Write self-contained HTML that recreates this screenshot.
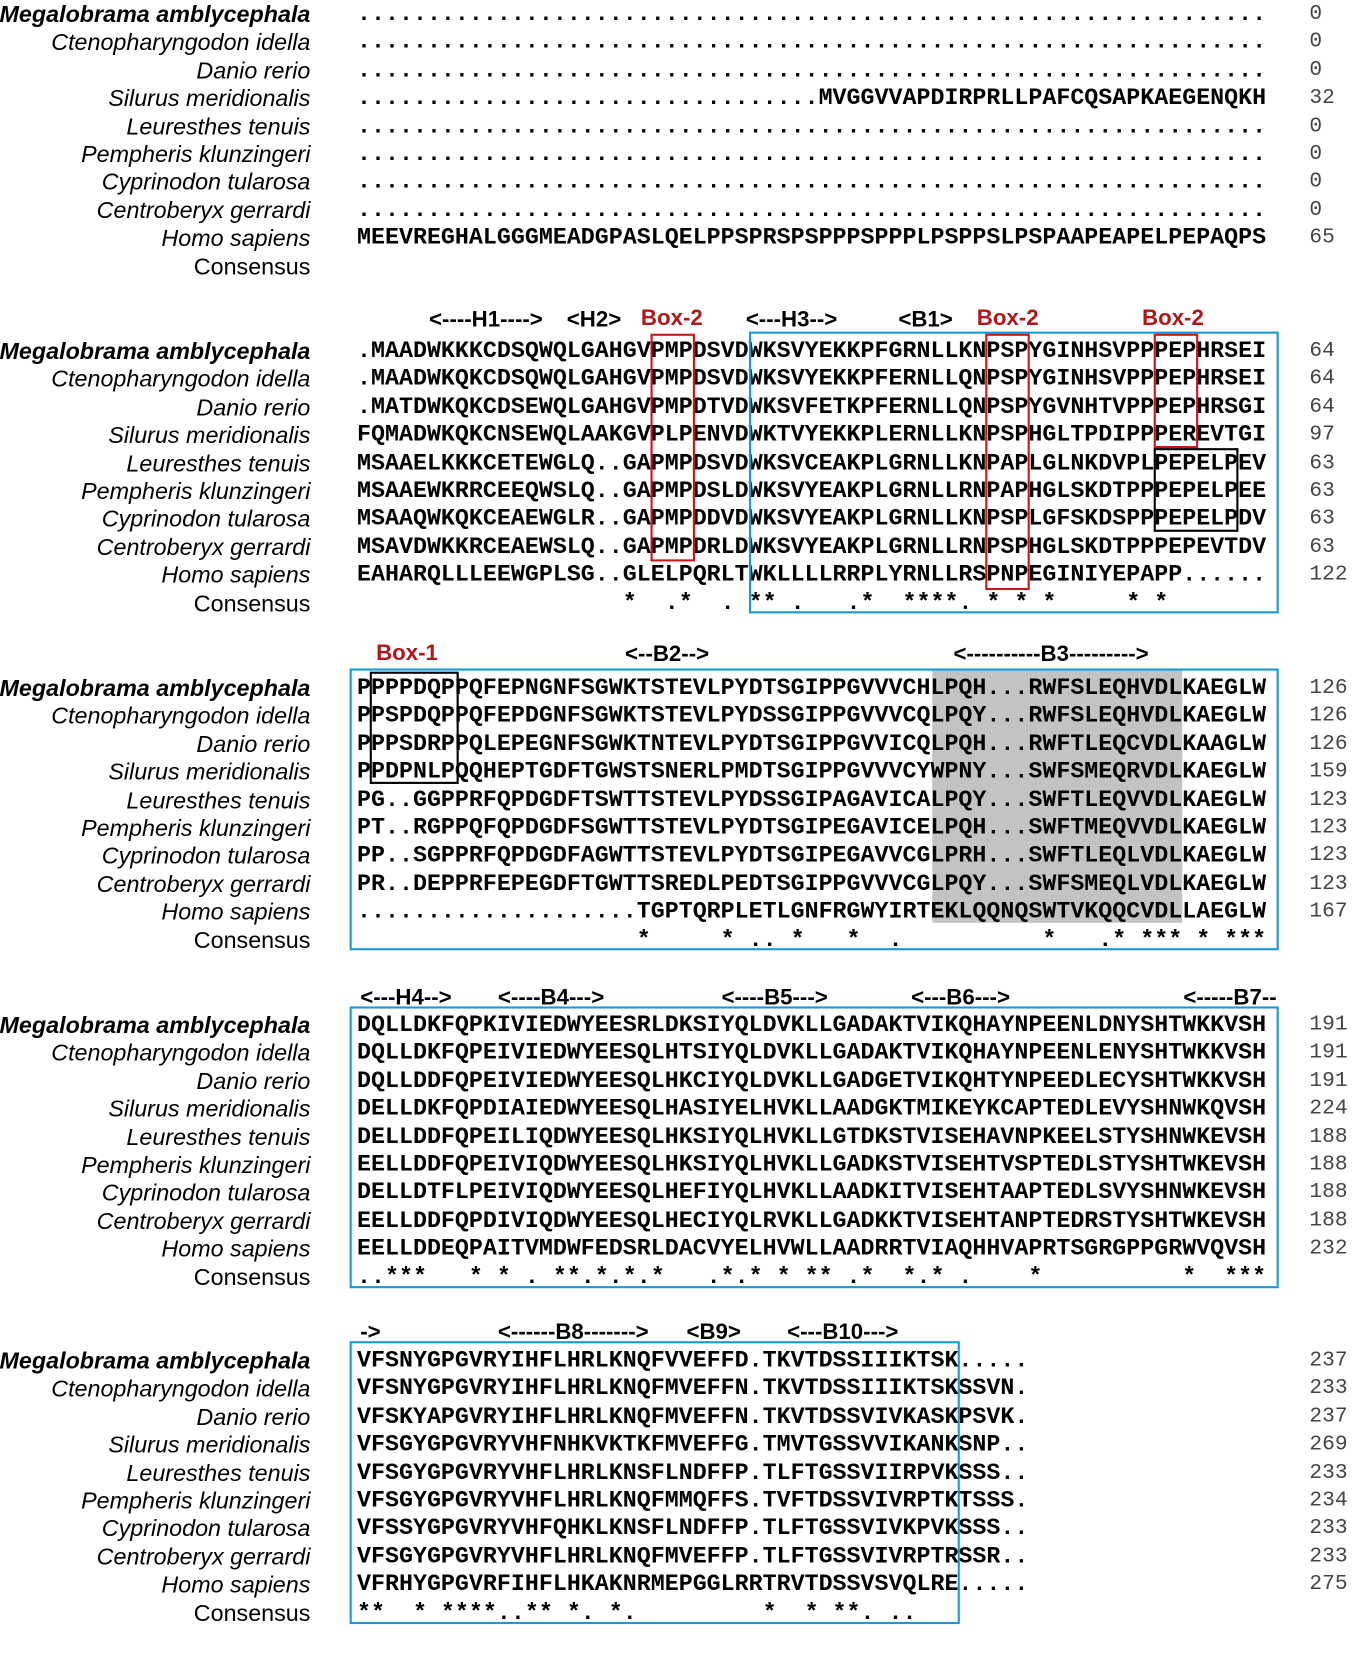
<!DOCTYPE html>
<html><head><meta charset="utf-8">
<style>
html,body{margin:0;padding:0;background:#fff;}
#wrap{width:1356px;height:1667px;overflow:hidden;position:relative;}
#pg{position:absolute;left:0;top:0;width:1280px;height:1574px;transform:scale(1.0594);transform-origin:0 0;}
.lab{position:absolute;right:987px;text-align:right;font-family:"Liberation Sans",sans-serif;font-style:italic;font-size:22px;line-height:26.4px;color:#000;white-space:pre;}
.lab b{font-weight:bold;}
.lab span{font-style:normal;}
.seq{position:absolute;left:337px;font-family:"Liberation Mono",monospace;font-weight:bold;font-size:22px;line-height:26.4px;white-space:pre;color:#000;margin:0;}
.num{position:absolute;left:1236px;font-family:"Liberation Mono",monospace;font-size:20px;line-height:26.4px;white-space:pre;color:#444;}
.hd{position:absolute;font-family:"Liberation Sans",sans-serif;font-weight:bold;font-size:21px;line-height:22px;white-space:pre;color:#000;}
.red{color:#b01818;}
.box{position:absolute;box-sizing:border-box;}
.blue{border:2.5px solid #1a98d5;}
.rb{border:2px solid #c8161d;}
.kb{border:2px solid #000;}
.gray{background:#c3c3c3;}
</style></head><body><div id="wrap"><div id="pg">

<div class="box gray" style="left:880px;top:632px;width:236px;height:239px;"></div>

<!-- Block 1 -->
<div class="lab" style="top:1px"><b>Megalobrama amblycephala</b>
Ctenopharyngodon idella
Danio rerio
Silurus meridionalis
Leuresthes tenuis
Pempheris klunzingeri
Cyprinodon tularosa
Centroberyx gerrardi
Homo sapiens
<span>Consensus</span></div>
<pre class="seq" style="top:1px">.................................................................
.................................................................
.................................................................
.................................MVGGVVAPDIRPRLLPAFCQSAPKAEGENQKH
.................................................................
.................................................................
.................................................................
.................................................................
MEEVREGHALGGGMEADGPASLQELPPSPRSPSPPPSPPPLPSPPSLPSPAAPEAPELPEPAQPS
</pre>
<div class="num" style="top:1px">0
0
0
32
0
0
0
0
65</div>

<!-- Block 2 -->
<div class="hd" style="left:405px;top:291px">&lt;----H1----&gt;</div>
<div class="hd" style="left:535px;top:291px">&lt;H2&gt;</div>
<div class="hd red" style="left:605px;top:290px">Box-2</div>
<div class="hd" style="left:704px;top:291px">&lt;---H3--&gt;</div>
<div class="hd" style="left:848px;top:291px">&lt;B1&gt;</div>
<div class="hd red" style="left:922px;top:290px">Box-2</div>
<div class="hd red" style="left:1078px;top:290px">Box-2</div>
<div class="lab" style="top:319px"><b>Megalobrama amblycephala</b>
Ctenopharyngodon idella
Danio rerio
Silurus meridionalis
Leuresthes tenuis
Pempheris klunzingeri
Cyprinodon tularosa
Centroberyx gerrardi
Homo sapiens
<span>Consensus</span></div>
<pre class="seq" style="top:319px">.MAADWKKKCDSQWQLGAHGVPMPDSVDWKSVYEKKPFGRNLLKNPSPYGINHSVPPPEPHRSEI
.MAADWKQKCDSQWQLGAHGVPMPDSVDWKSVYEKKPFERNLLQNPSPYGINHSVPPPEPHRSEI
.MATDWKQKCDSEWQLGAHGVPMPDTVDWKSVFETKPFERNLLQNPSPYGVNHTVPPPEPHRSGI
FQMADWKQKCNSEWQLAAKGVPLPENVDWKTVYEKKPLERNLLKNPSPHGLTPDIPPPEREVTGI
MSAAELKKKCETEWGLQ..GAPMPDSVDWKSVCEAKPLGRNLLKNPAPLGLNKDVPLPEPELPEV
MSAAEWKRRCEEQWSLQ..GAPMPDSLDWKSVYEAKPLGRNLLRNPAPHGLSKDTPPPEPELPEE
MSAAQWKQKCEAEWGLR..GAPMPDDVDWKSVYEAKPLGRNLLKNPSPLGFSKDSPPPEPELPDV
MSAVDWKKRCEAEWSLQ..GAPMPDRLDWKSVYEAKPLGRNLLRNPSPHGLSKDTPPPEPEVTDV
EAHARQLLLEEWGPLSG..GLELPQRLTWKLLLLRRPLYRNLLRSPNPEGINIYEPAPP......
                   *  .*  . ** .   .*  ****. * * *     * *</pre>
<div class="num" style="top:319px">64
64
64
97
63
63
63
63
122</div>
<div class="box blue" style="left:707px;top:313px;width:500px;height:266px;"></div>
<div class="box rb" style="left:614px;top:315px;width:42px;height:215px;"></div>
<div class="box rb" style="left:930px;top:315px;width:42px;height:242px;"></div>
<div class="box rb" style="left:1089px;top:315px;width:42px;height:108px;"></div>
<div class="box kb" style="left:1089px;top:423px;width:80px;height:79px;"></div>

<!-- Block 3 -->
<div class="hd red" style="left:355px;top:606px">Box-1</div>
<div class="hd" style="left:590px;top:607px">&lt;--B2--&gt;</div>
<div class="hd" style="left:900px;top:607px">&lt;----------B3---------&gt;</div>
<div class="lab" style="top:637px"><b>Megalobrama amblycephala</b>
Ctenopharyngodon idella
Danio rerio
Silurus meridionalis
Leuresthes tenuis
Pempheris klunzingeri
Cyprinodon tularosa
Centroberyx gerrardi
Homo sapiens
<span>Consensus</span></div>
<pre class="seq" style="top:637px">PPPPDQPPQFEPNGNFSGWKTSTEVLPYDTSGIPPGVVVCHLPQH...RWFSLEQHVDLKAEGLW
PPSPDQPPQFEPDGNFSGWKTSTEVLPYDSSGIPPGVVVCQLPQY...RWFSLEQHVDLKAEGLW
PPPSDRPPQLEPEGNFSGWKTNTEVLPYDTSGIPPGVVICQLPQH...RWFTLEQCVDLKAAGLW
PPDPNLPQQHEPTGDFTGWSTSNERLPMDTSGIPPGVVVCYWPNY...SWFSMEQRVDLKAEGLW
PG..GGPPRFQPDGDFTSWTTSTEVLPYDSSGIPAGAVICALPQY...SWFTLEQVVDLKAEGLW
PT..RGPPQFQPDGDFSGWTTSTEVLPYDTSGIPEGAVICELPQH...SWFTMEQVVDLKAEGLW
PP..SGPPRFQPDGDFAGWTTSTEVLPYDTSGIPEGAVVCGLPRH...SWFTLEQLVDLKAEGLW
PR..DEPPRFEPEGDFTGWTTSREDLPEDTSGIPPGVVVCGLPQY...SWFSMEQLVDLKAEGLW
....................TGPTQRPLETLGNFRGWYIRTEKLQQNQSWTVKQQCVDLLAEGLW
                    *     * .. *   *  .          *   .* *** * ***</pre>
<div class="num" style="top:637px">126
126
126
159
123
123
123
123
167</div>
<div class="box blue" style="left:330px;top:631px;width:877px;height:266px;"></div>
<div class="box kb" style="left:349px;top:634px;width:84px;height:106px;"></div>

<!-- Block 4 -->
<div class="hd" style="left:340px;top:931px">&lt;---H4--&gt;</div>
<div class="hd" style="left:470px;top:931px">&lt;----B4---&gt;</div>
<div class="hd" style="left:681px;top:931px">&lt;----B5---&gt;</div>
<div class="hd" style="left:860px;top:931px">&lt;---B6---&gt;</div>
<div class="hd" style="left:1117px;top:931px">&lt;-----B7--</div>
<div class="lab" style="top:955px"><b>Megalobrama amblycephala</b>
Ctenopharyngodon idella
Danio rerio
Silurus meridionalis
Leuresthes tenuis
Pempheris klunzingeri
Cyprinodon tularosa
Centroberyx gerrardi
Homo sapiens
<span>Consensus</span></div>
<pre class="seq" style="top:955px">DQLLDKFQPKIVIEDWYEESRLDKSIYQLDVKLLGADAKTVIKQHAYNPEENLDNYSHTWKKVSH
DQLLDKFQPEIVIEDWYEESQLHTSIYQLDVKLLGADAKTVIKQHAYNPEENLENYSHTWKKVSH
DQLLDDFQPEIVIEDWYEESQLHKCIYQLDVKLLGADGETVIKQHTYNPEEDLECYSHTWKKVSH
DELLDKFQPDIAIEDWYEESQLHASIYELHVKLLAADGKTMIKEYKCAPTEDLEVYSHNWKQVSH
DELLDDFQPEILIQDWYEESQLHKSIYQLHVKLLGTDKSTVISEHAVNPKEELSTYSHNWKEVSH
EELLDDFQPEIVIQDWYEESQLHKSIYQLHVKLLGADKSTVISEHTVSPTEDLSTYSHTWKEVSH
DELLDTFLPEIVIQDWYEESQLHEFIYQLHVKLLAADKITVISEHTAAPTEDLSVYSHNWKEVSH
EELLDDFQPDIVIQDWYEESQLHECIYQLRVKLLGADKKTVISEHTANPTEDRSTYSHTWKEVSH
EELLDDEQPAITVMDWFEDSRLDACVYELHVWLLAADRRTVIAQHHVAPRTSGRGPPGRWVQVSH
..***   * * . **.*.*.*   .*.* * ** .*  *.* .    *          *  ***</pre>
<div class="num" style="top:955px">191
191
191
224
188
188
188
188
232</div>
<div class="box blue" style="left:330px;top:950px;width:877px;height:266px;"></div>

<!-- Block 5 -->
<div class="hd" style="left:340px;top:1247px">-&gt;</div>
<div class="hd" style="left:470px;top:1247px">&lt;------B8-------&gt;</div>
<div class="hd" style="left:648px;top:1247px">&lt;B9&gt;</div>
<div class="hd" style="left:743px;top:1247px">&lt;---B10---&gt;</div>
<div class="lab" style="top:1272px"><b>Megalobrama amblycephala</b>
Ctenopharyngodon idella
Danio rerio
Silurus meridionalis
Leuresthes tenuis
Pempheris klunzingeri
Cyprinodon tularosa
Centroberyx gerrardi
Homo sapiens
<span>Consensus</span></div>
<pre class="seq" style="top:1272px">VFSNYGPGVRYIHFLHRLKNQFVVEFFD.TKVTDSSIIIKTSK.....
VFSNYGPGVRYIHFLHRLKNQFMVEFFN.TKVTDSSIIIKTSKSSVN.
VFSKYAPGVRYIHFLHRLKNQFMVEFFN.TKVTDSSVIVKASKPSVK.
VFSGYGPGVRYVHFNHKVKTKFMVEFFG.TMVTGSSVVIKANKSNP..
VFSGYGPGVRYVHFLHRLKNSFLNDFFP.TLFTGSSVIIRPVKSSS..
VFSGYGPGVRYVHFLHRLKNQFMMQFFS.TVFTDSSVIVRPTKTSSS.
VFSSYGPGVRYVHFQHKLKNSFLNDFFP.TLFTGSSVIVKPVKSSS..
VFSGYGPGVRYVHFLHRLKNQFMVEFFP.TLFTGSSVIVRPTRSSR..
VFRHYGPGVRFIHFLHKAKNRMEPGGLRRTRVTDSSVSVQLRE.....
**  * ****..** *. *.         *  * **. ..</pre>
<div class="num" style="top:1272px">237
233
237
269
233
234
233
233
275</div>
<div class="box blue" style="left:330px;top:1266px;width:576px;height:267px;"></div>

</div></div></body></html>
